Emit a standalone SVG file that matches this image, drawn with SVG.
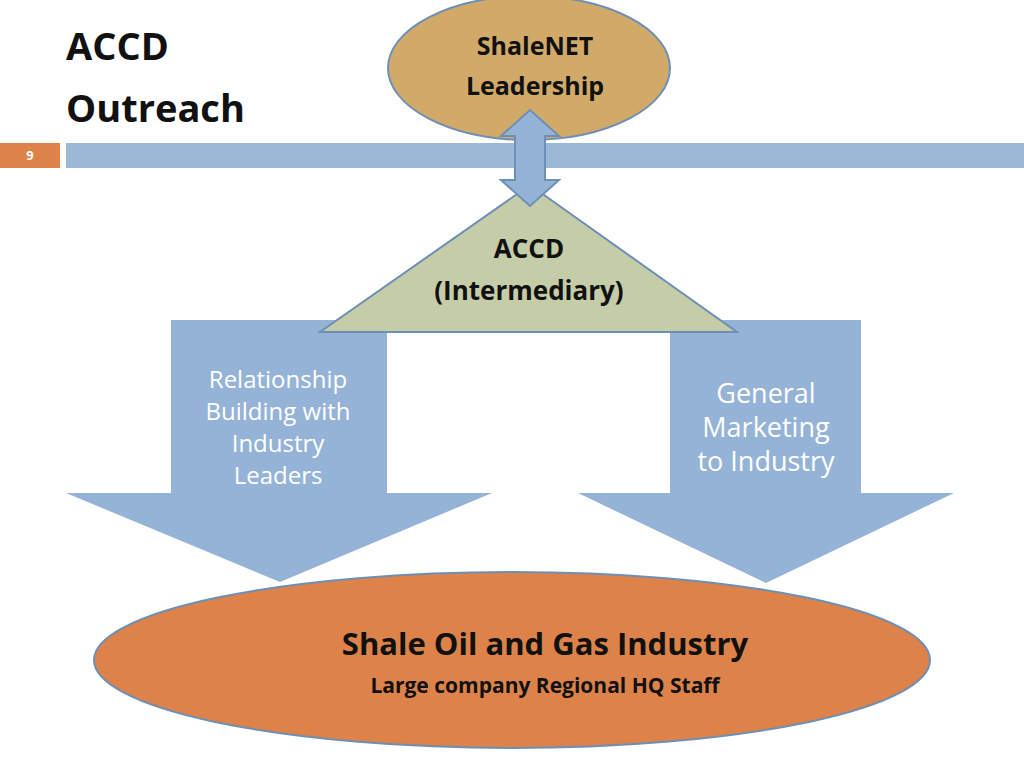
<svg xmlns="http://www.w3.org/2000/svg" width="1024" height="768" viewBox="0 0 1024 768">
<style>
.t{font-family:"Open Sans","Liberation Sans",sans-serif;text-anchor:middle}
.b{font-weight:bold;fill:#111}
.w{fill:#fff}
.arr{fill:#95b3d7}
</style>
<rect width="1024" height="768" fill="#fff"/>
<g id="title">
<text x="66" y="60" font-family="Open Sans, Liberation Sans, sans-serif" font-weight="bold" font-size="38" fill="#111">ACCD</text>
<text x="66" y="122" font-family="Open Sans, Liberation Sans, sans-serif" font-weight="bold" font-size="38" fill="#111">Outreach</text>
</g>
<rect x="0" y="143" width="60" height="25" fill="#dd8248"/>
<text x="30" y="160" class="t w" font-size="13" font-weight="bold">9</text>
<rect x="66" y="143" width="958" height="25" fill="#9bb8d6"/>
<g id="connectors">
<polygon id="leftArrow" class="arr" points="171,320 387,320 387,493 492,493 280,582 66,493 171,493"/>
<polygon id="rightArrow" class="arr" points="670,320 861,320 861,493 954,493 766,583 578,493 670,493"/>
</g>
<g id="leftLabel" class="t w" font-size="24">
<text x="278" y="388">Relationship</text>
<text x="278" y="420">Building with</text>
<text x="278" y="452">Industry</text>
<text x="278" y="484">Leaders</text>
</g>
<g id="rightLabel" class="t w" font-size="27">
<text x="766" y="403">General</text>
<text x="766" y="437">Marketing</text>
<text x="766" y="471">to Industry</text>
</g>
<g id="shalenet">
<ellipse cx="529" cy="68" rx="141" ry="72" fill="#d1aa6a" stroke="#6d8fb5" stroke-width="2"/>
<text x="535" y="55" class="t b" font-size="25">ShaleNET</text>
<text x="535" y="95" class="t b" font-size="25">Leadership</text>
</g>
<g id="accd">
<polygon points="530,185 737,332 320,332" fill="#c5cca8" stroke="#6d8fb5" stroke-width="2"/>
<text x="529" y="258" class="t b" font-size="26">ACCD</text>
<text x="529" y="300" class="t b" font-size="26">(Intermediary)</text>
</g>
<g id="dblArrow">
<polygon points="530,110 559,136 545,136 545,180 559,180 530,206 501,180 515,180 515,136 501,136" fill="#95b3d7" stroke="#6d8fb5" stroke-width="2"/>
</g>
<g id="industry">
<ellipse cx="512" cy="660" rx="418" ry="88" fill="#dd8248" stroke="#6d8fb5" stroke-width="2"/>
<text x="545" y="655" class="t b" font-size="31">Shale Oil and Gas Industry</text>
<text x="545" y="693" class="t b" font-size="21">Large company Regional HQ Staff</text>
</g>
</svg>
